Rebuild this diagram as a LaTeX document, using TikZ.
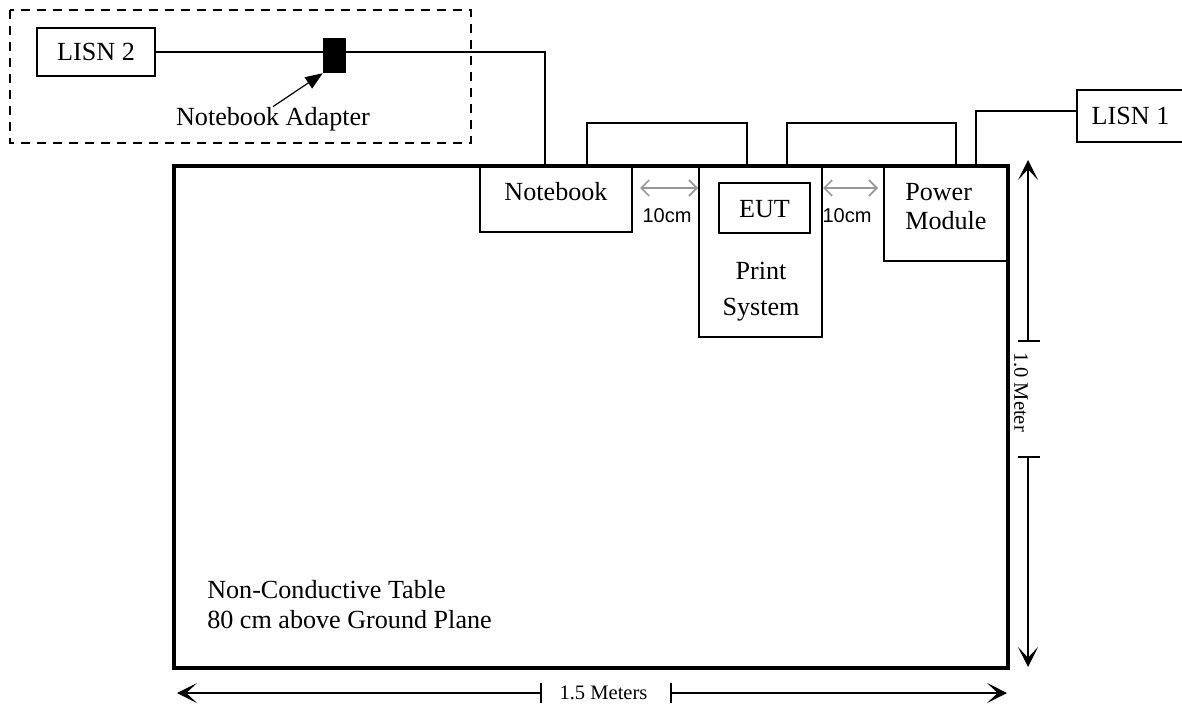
\documentclass[tikz,border=0pt]{standalone}
\usepackage{fontspec}
\setmainfont{Liberation Serif}
\newfontfamily\sansf{Liberation Sans}
\usetikzlibrary{arrows.meta}
\begin{document}
\begin{tikzpicture}[x=0.75pt,y=-0.75pt,
  box/.style={draw, line width=1.1pt, inner sep=0pt},
  txt/.style={font=\fontsize{19.6}{23}\selectfont, inner sep=0pt},
  smalltxt/.style={font=\fontsize{15.4}{18}\selectfont, inner sep=0pt},
  cmtxt/.style={font=\sansf\fontsize{15}{18}\selectfont, inner sep=0pt},
  wire/.style={line width=0.9pt},
  dimarrow/.style={line width=1pt, -{Stealth[length=15pt,width=15pt,inset=8pt]}},
  gaparrow/.style={line width=1.2pt, draw=black!40, {Straight Barb[length=6pt,width=12pt]}-{Straight Barb[length=6pt,width=12pt]}},
  tickline/.style={line width=1pt},
  dashbox/.style={line width=1.5pt, dash pattern=on 7pt off 5pt},
]
\useasboundingbox (0,0) rectangle (1182,707);

% dashed enclosure
\draw[dashbox] (10,10) rectangle (471,143);

% table
\node[draw, line width=2.6pt, inner sep=0pt, minimum width=625.5pt, minimum height=376.5pt] (table) at (591,417) {};
\node[txt, anchor=base west] (tbl1) at (207,598) {Non-Conductive Table};
\node[txt, anchor=base west] (tbl2) at (207,628) {80 cm above Ground Plane};

% LISN 2 and adapter
\node[box, txt, minimum width=88.5pt, minimum height=36pt] (lisn2) at (96,52) {LISN 2};
\node[fill=black, inner sep=0pt, minimum width=17.25pt, minimum height=26.25pt] (adp) at (334.5,55.5) {};
\node[txt, anchor=base] (adplbl) at (273,125) {Notebook Adapter};
\draw[wire, -{Triangle[length=13pt,width=10pt]}] (adplbl.north) -- (adp.south west);

% equipment boxes
\node[box, minimum width=114pt, minimum height=49.5pt] (nb) at (556,199) {};
\node[txt, anchor=base] (nbtxt) at (556,200.5) {Notebook};

\node[box, minimum width=92.25pt, minimum height=128.25pt] (ps) at (760.5,251.5) {};
\node[box, minimum width=68.25pt, minimum height=37.5pt] (eut) at (764.5,208) {};
\node[txt, anchor=base] (euttxt) at (764.5,217) {EUT};
\node[txt, anchor=base] (pstxt1) at (761,279) {Print};
\node[txt, anchor=base] (pstxt2) at (761,315) {System};

\node[box, minimum width=93pt, minimum height=71.25pt] (pm) at (946,213.5) {};
\node[txt, anchor=base west] (pmtxt1) at (905,200.5) {Power};
\node[txt, anchor=base west] (pmtxt2) at (905,229) {Module};

\node[box, txt, minimum width=80.25pt, minimum height=39pt] (lisn1) at (1130.5,116) {LISN 1};

% wires
\draw[wire] (lisn2.east) -- (lisn2.east -| adp.west);
\draw[wire] (adp.east |- lisn2.east) -- (545,52) -- (545,0 |- nb.north);
\draw[wire] (587,0 |- nb.north) -- (587,123) -- (747,123) -- (747,0 |- ps.north);
\draw[wire] (787,0 |- ps.north) -- (787,123) -- (956,123) -- (956,0 |- pm.north);
\draw[wire] (976,0 |- pm.north) -- (976,111) -- (976,111 -| lisn1.west);

% 10 cm spacings
\draw[gaparrow] (640,188) -- (698,188);
\draw[gaparrow] (823,188) -- (878,188);
\node[cmtxt, anchor=base] (gap1) at (667,222) {10cm};
\node[cmtxt, anchor=base] (gap2) at (847,222) {10cm};

% vertical dimension
\coordinate (vt1) at (1028,341);
\coordinate (vt2) at (1028,457);
\coordinate (vtop) at (1028,160);
\coordinate (vbot) at (1028,667);
\draw[tickline] (1018,341) -- (1040,341);
\draw[tickline] (1018,457) -- (1040,457);
\draw[dimarrow] (vt1) -- (vtop);
\draw[dimarrow] (vt2) -- (vbot);
\node[smalltxt, rotate=-90] (vlbl) at (1021,392) {1.0 Meter};

% horizontal dimension
\coordinate (ht1) at (541,693);
\coordinate (ht2) at (671,693);
\coordinate (hleft) at (177,693);
\coordinate (hright) at (1007,693);
\draw[tickline] (541,683) -- (541,703);
\draw[tickline] (671,683) -- (671,703);
\draw[dimarrow] (ht1) -- (hleft);
\draw[dimarrow] (ht2) -- (hright);
\node[smalltxt, anchor=base] (hlbl) at (603.5,699) {1.5 Meters};
\end{tikzpicture}
\end{document}
